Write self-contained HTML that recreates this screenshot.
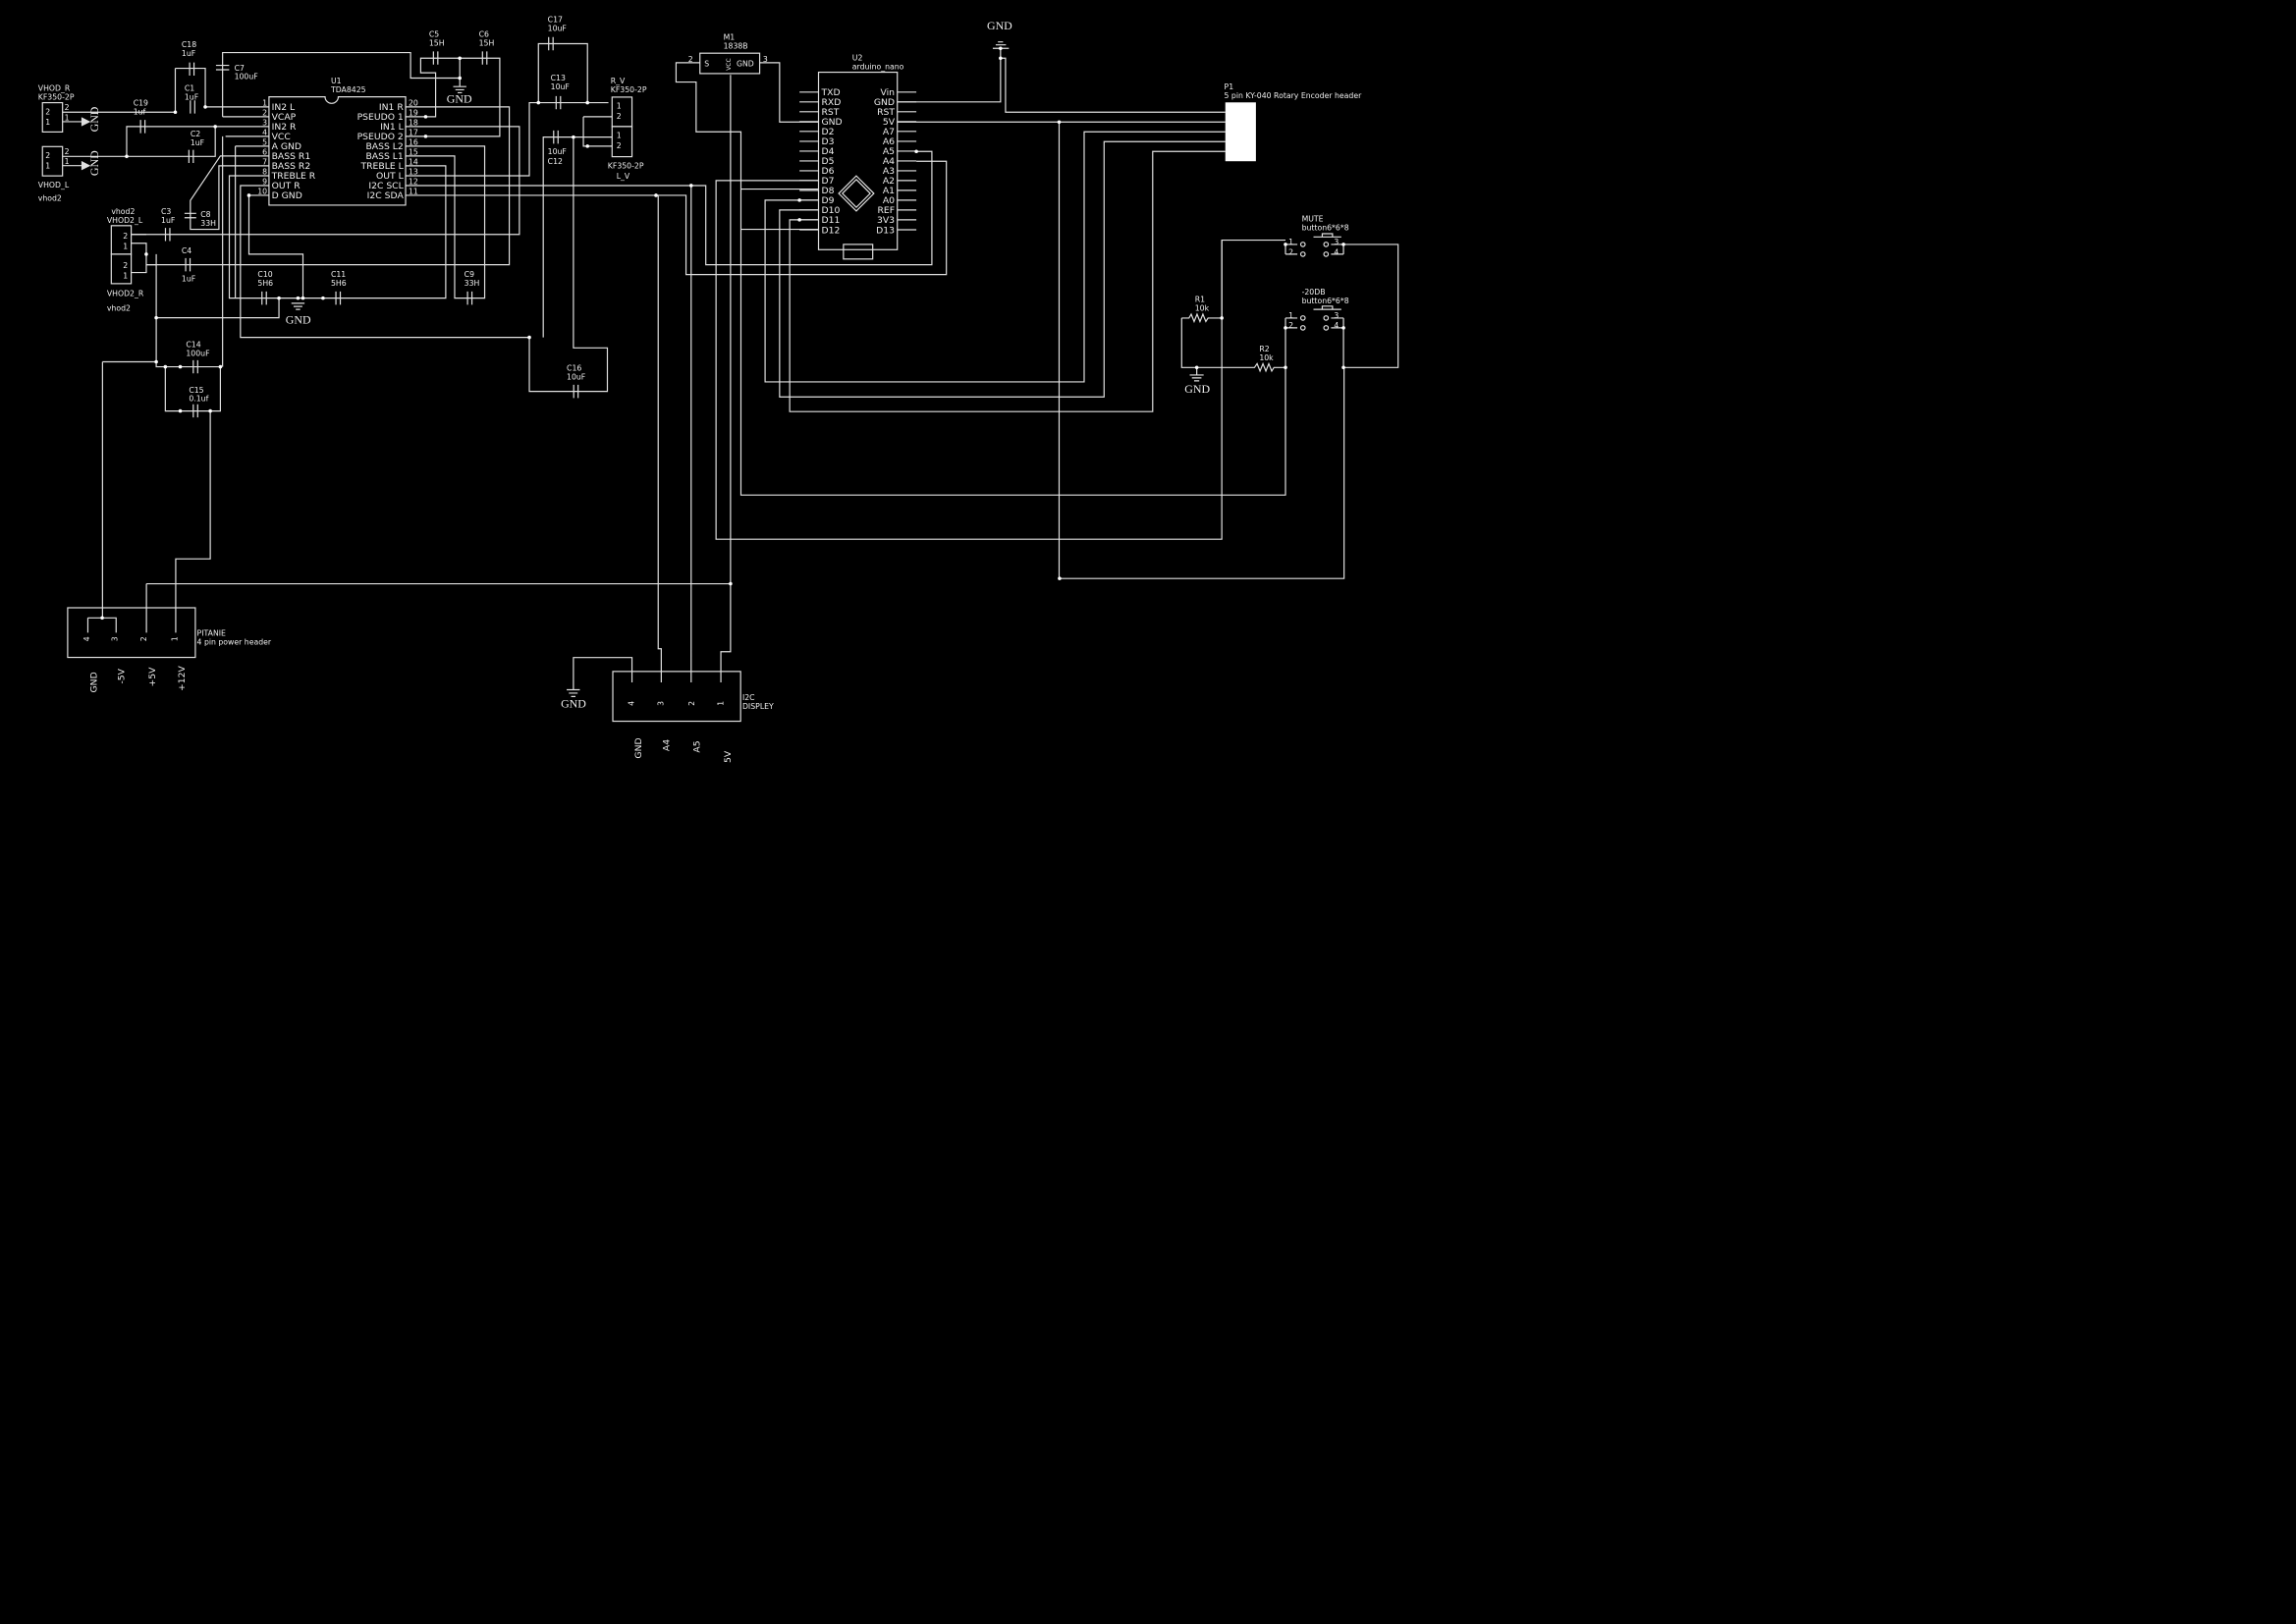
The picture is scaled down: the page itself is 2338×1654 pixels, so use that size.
<!DOCTYPE html>
<html><head><meta charset="utf-8"><style>
html,body{margin:0;padding:0;background:#000;}
svg{display:block}
text{fill:#eee;font-family:"DejaVu Sans","Liberation Sans",sans-serif;}
.s{font-size:5.2px}
.p{font-size:6.2px}
.g{font-family:"Liberation Serif","DejaVu Serif",serif;font-size:8px}
</style></head><body>
<svg width="2338" height="1654" viewBox="0 0 1568 1109" xmlns="http://www.w3.org/2000/svg">
<rect width="1568" height="1109" fill="#000"/>
<g fill="none" stroke="#e0e0e0" stroke-width="0.8">
<!-- U1 -->
<path d="M183.7,66 H222 A4.5,4.5 0 0 0 231,66 H277 V140 H183.7 Z"/>
<path d="M178,72.9H183.7M178,79.6H183.7M178,86.3H183.7M178,93H183.7M178,99.7H183.7M178,106.4H183.7M178,113.1H183.7M178,119.9H183.7M178,126.6H183.7M178,133.3H183.7"/>
<!-- left inputs -->
<rect x="29" y="70" width="13.7" height="20"/>
<rect x="29" y="100" width="13.7" height="20"/>
<path d="M42.7,76.5H119.7M42.7,83H56M42.7,106.7H130M42.7,113H56"/>
<path d="M56,80.5L61,83L56,85.5Z M56,110.5L61,113L56,115.5Z" fill="#e0e0e0"/>
<path d="M119.7,46.5V76.5M119.7,46.5H140.2V72.9M140,72.9H178"/>
<path d="M86.5,106.7V86.3H178M130,106.7H147V86.3"/>
<path d="M152,79.6H178M152,79.6V35.8H280.4V53.2H314"/>
<path d="M154,93H178M152,93V250.4"/>
<path d="M160.7,99.7H178M160.7,99.7V203.5"/>
<path d="M178,106.4H150.5L130,136.8V156.5H149.5V113.1H178"/>
<path d="M178,119.9H156.6V203.5H304.4V113.1H287"/>
<path d="M178,126.6H164.2V230.3H361.5M371,230.3V93.5H391.6"/>
<path d="M178,133.3H170V173.5H206.9V203.5"/>
<!-- right pins -->
<path d="M277,72.9H347.8V180.7H99.9M277,79.6H297.5V49.6H287.3V39.6H341.3V93H277M314,39.6V59M277,86.3H354.7V160H89.6M277,99.7H331V203.5H310.5V106.4H277"/>
<path d="M277,119.9H361.5V70H415.5M367.7,70V29.7H401.2V70"/>
<path d="M277,113.1H287M277,126.6H482V180.7H636.4V103.3H625.8M277,133.3H468.5V187.4H646.3V110H625.8"/>
<path d="M391.6,93.5V237.5H414.8V267.2H361.5V230.3M391.6,93.5H418M398.4,79.6V99.7H418M398.4,79.6H418"/>
<!-- VHOD2 -->
<rect x="76" y="154" width="13.6" height="19.5"/><rect x="76" y="173.5" width="13.6" height="20.1"/>
<path d="M89.6,160H99.9M89.6,166H99.9V186H89.6M99.9,173.5V180.7M99.9,180.7H106.7M106.7,173.5V247M106.7,216.9H190.5V203.5M70,247H106.7V250.4H150.5M70,247V421.9"/>
<!-- C14 / C15 -->
<path d="M112.9,250.4V280.6H150.5V250.4M143.6,280.6V381.6H120V432M100,398.6H498.9M100,398.6V432"/>
<!-- power header -->
<rect x="46.2" y="415" width="87.2" height="33.9"/>
<path d="M60,421.9H79.3V432M60,421.9V432"/>
<!-- I2C -->
<rect x="418.5" y="458.5" width="87.3" height="34"/>
<path d="M431.6,466V449H391.6V471M451.6,466V443H449.5V133.3M472,466V126.6M492.3,466V445H498.9V51"/>
<path d="M387,471H396M388.5,473.3H394.5M390,475.6H393"/>
<!-- M1 -->
<rect x="478" y="36.2" width="40.8" height="13.9"/>
<path d="M478,42.7H461.7V55.9H475.4V89.9H506V338H877.9V223.8M506,129H559M506,156.5H559M518.8,42.7H532.4V83.2H559"/>
<!-- arduino -->
<rect x="559" y="49.2" width="53.8" height="121.2"/>
<path d="M546,62.8H559M546,69.5H559M546,76.2H559M546,82.9H559M546,89.6H559M546,96.4H559M546,103.1H559M546,109.8H559M546,116.5H559M546,123.2H559M546,129.9H559M546,136.6H559M546,143.3H559M546,150H559M546,156.8H559"/>
<path d="M612.8,62.8H625.8M612.8,69.5H625.8M612.8,76.2H625.8M612.8,82.9H625.8M612.8,89.6H625.8M612.8,96.4H625.8M612.8,103.1H625.8M612.8,109.8H625.8M612.8,116.5H625.8M612.8,123.2H625.8M612.8,129.9H625.8M612.8,136.6H625.8M612.8,143.3H625.8M612.8,150H625.8M612.8,156.8H625.8"/>
<path d="M584.8,120L596.8,132L584.8,144L572.8,132Z M584.8,122.5L594.3,132L584.8,141.5L575.3,132Z"/>
<rect x="576" y="166.8" width="20" height="10"/>
<path d="M612.8,69.5H683.3V39.6M683.3,39.6V32.9M683.3,39.6H686.7V76.5H836.8M612.8,83.2H836.8M723.3,83.2V395H917.9V250.8"/>
<path d="M678,32.9H689M680,30.5H687M681.5,28.5H685"/>
<path d="M836.8,89.9H740.4V260.7H522.5V136.6H559M836.8,96.6H754V271H532.4V143.3H559M836.8,103.3H787.2V281H539.3V150H559"/>
<path d="M559,123.2H489V368.2H834.4V163.9H877.9"/>
<!-- buttons -->
<path d="M877.9,166.8V173.5M917.5,166.8V173.5M917.5,166.8H954.8V250.9H917.5V223.8M877.9,166.8H886M917.5,166.8H909"/>
<path d="M877.9,173.5H886M917.5,173.5H909M877.9,217.1V223.8H886M877.9,217.1H886M917.5,217.1V223.8H909M917.5,217.1H909"/>
<path d="M897,161.7H916M903,161.7V159.5H910V161.7M897,211.2H916M903,211.2V209H910V211.2"/>
<circle cx="889.8" cy="166.8" r="1.5"/><circle cx="905.6" cy="166.8" r="1.5"/><circle cx="889.8" cy="173.5" r="1.5"/><circle cx="905.6" cy="173.5" r="1.5"/>
<circle cx="889.8" cy="217.1" r="1.5"/><circle cx="905.6" cy="217.1" r="1.5"/><circle cx="889.8" cy="223.8" r="1.5"/><circle cx="905.6" cy="223.8" r="1.5"/>
<path d="M807,217.1H812L813.5,214.5L815.5,219.5L817.5,214.5L819.5,219.5L821.5,214.5L823.5,219.5L825,217.1H834.4V163.9M807,217.1V250.9H856.7L858.5,248.3L860.5,253.3L862.5,248.3L864.5,253.3L866.5,248.3L868.5,253.3L870,250.9H877.9"/>
<path d="M817.3,250.9V256M812.5,256H822M814,258H820.5M815.5,260H819"/>
<path d="M309.5,59H318.5M311,61.2H317M312.5,63.2H315.5M199,207H208M200.5,209.2H206.5M202,211.2H205"/>
</g>
<!-- caps (black gap + plates) -->
<g stroke="#e0e0e0" stroke-width="0.8" fill="none">
<g id="caps">
<path d="M129.5,42.5V51.5M132.5,42.5V51.5 M130,68.4V77.4M133,68.4V77.4 M96,81.8V90.8M99,81.8V90.8 M129,102.2V111.2M132,102.2V111.2 M113,155.5V164.5M116,155.5V164.5 M126.8,176.2V185.2M129.8,176.2V185.2 M178.9,199V208M181.9,199V208 M229.4,199V208M232.4,199V208 M319.3,199V208M322.3,199V208 M132,245.9V254.9M135,245.9V254.9 M132,276V285M135,276V285 M296,35V44M299,35V44 M329.5,35V44M332.5,35V44 M374.7,25.2V34.2M377.7,25.2V34.2 M379.8,65.5V74.5M382.8,65.5V74.5 M378.1,89V98M381.1,89V98 M391.8,262.7V271.7M394.8,262.7V271.7"/>
<path d="M147.5,44.5H156.5M147.5,47.5H156.5M126,145.6H134M126,148.6H134"/>
</g>
</g>
<g fill="#fff">
<circle cx="140.2" cy="72.9" r="1.2"/><circle cx="119.7" cy="76.5" r="1.2"/><circle cx="147" cy="86.3" r="1.2"/><circle cx="86.5" cy="106.7" r="1.2"/>
<circle cx="290.7" cy="79.6" r="1.2"/><circle cx="290.7" cy="93" r="1.2"/><circle cx="314" cy="39.6" r="1.2"/><circle cx="314" cy="53.2" r="1.2"/>
<circle cx="170" cy="133.3" r="1.2"/><circle cx="190.5" cy="203.5" r="1.2"/><circle cx="203.5" cy="203.5" r="1.2"/><circle cx="206.9" cy="203.5" r="1.2"/><circle cx="220.6" cy="203.5" r="1.2"/>
<circle cx="99.9" cy="173.5" r="1.2"/><circle cx="106.7" cy="216.9" r="1.2"/><circle cx="106.7" cy="247" r="1.2"/><circle cx="112.9" cy="250.4" r="1.2"/><circle cx="123.1" cy="250.4" r="1.2"/><circle cx="150.5" cy="250.4" r="1.2"/><circle cx="123.1" cy="280.6" r="1.2"/><circle cx="143.6" cy="280.6" r="1.2"/>
<circle cx="367.7" cy="70" r="1.2"/><circle cx="401.2" cy="70" r="1.2"/><circle cx="391.6" cy="93.5" r="1.2"/><circle cx="401.2" cy="99.7" r="1.2"/><circle cx="361.5" cy="230.3" r="1.2"/>
<circle cx="472" cy="126.6" r="1.2"/><circle cx="448" cy="133.3" r="1.2"/><circle cx="69.8" cy="421.9" r="1.2"/><circle cx="498.9" cy="398.6" r="1.2"/><circle cx="723.6" cy="395" r="1.2"/><circle cx="723.3" cy="83.2" r="1.2"/>
<circle cx="683.3" cy="39.6" r="1.2"/><circle cx="683.3" cy="32.9" r="1.2"/><circle cx="625.8" cy="103.3" r="1.2"/><circle cx="546" cy="136.6" r="1.2"/><circle cx="546" cy="150" r="1.2"/>
<circle cx="834.4" cy="217.1" r="1.2"/><circle cx="877.9" cy="250.9" r="1.2"/><circle cx="917.5" cy="250.9" r="1.2"/><circle cx="817.3" cy="250.9" r="1.2"/><circle cx="917.5" cy="166.8" r="1.2"/><circle cx="877.9" cy="166.8" r="1.2"/><circle cx="877.9" cy="223.8" r="1.2"/><circle cx="917.5" cy="223.8" r="1.2"/>
<rect x="836.8" y="69.8" width="20.9" height="40.2"/>
</g>
<!-- U1 text -->
<text class="p" x="185.5" y="75">IN2 L</text><text class="p" x="185.5" y="81.7">VCAP</text><text class="p" x="185.5" y="88.4">IN2 R</text><text class="p" x="185.5" y="95.1">VCC</text><text class="p" x="185.5" y="101.8">A GND</text><text class="p" x="185.5" y="108.5">BASS R1</text><text class="p" x="185.5" y="115.2">BASS R2</text><text class="p" x="185.5" y="122">TREBLE R</text><text class="p" x="185.5" y="128.7">OUT R</text><text class="p" x="185.5" y="135.4">D GND</text>
<g text-anchor="end"><text class="p" x="275.5" y="75">IN1 R</text><text class="p" x="275.5" y="81.7">PSEUDO 1</text><text class="p" x="275.5" y="88.4">IN1 L</text><text class="p" x="275.5" y="95.1">PSEUDO 2</text><text class="p" x="275.5" y="101.8">BASS L2</text><text class="p" x="275.5" y="108.5">BASS L1</text><text class="p" x="275.5" y="115.2">TREBLE L</text><text class="p" x="275.5" y="122">OUT L</text><text class="p" x="275.5" y="128.7">I2C SCL</text><text class="p" x="275.5" y="135.4">I2C SDA</text>
<text class="s" x="182.5" y="72">1</text><text class="s" x="182.5" y="78.7">2</text><text class="s" x="182.5" y="85.4">3</text><text class="s" x="182.5" y="92.1">4</text><text class="s" x="182.5" y="98.8">5</text><text class="s" x="182.5" y="105.5">6</text><text class="s" x="182.5" y="112.2">7</text><text class="s" x="182.5" y="119">8</text><text class="s" x="182.5" y="125.7">9</text><text class="s" x="182.5" y="132.4">10</text></g>
<text class="s" x="279" y="72">20</text><text class="s" x="279" y="78.7">19</text><text class="s" x="279" y="85.4">18</text><text class="s" x="279" y="92.1">17</text><text class="s" x="279" y="98.8">16</text><text class="s" x="279" y="105.5">15</text><text class="s" x="279" y="112.2">14</text><text class="s" x="279" y="119">13</text><text class="s" x="279" y="125.7">12</text><text class="s" x="279" y="132.4">11</text>
<text class="s" x="226" y="57">U1</text><text class="s" x="226" y="63">TDA8425</text>
<!-- Labels -->
<text class="s" x="26" y="62">VHOD_R</text><text class="s" x="26" y="68">KF350-2P</text>
<text class="s" x="31" y="78">2</text><text class="s" x="31" y="85">1</text><text class="s" x="31" y="108">2</text><text class="s" x="31" y="115">1</text>
<text class="s" x="44" y="75">2</text><text class="s" x="44" y="82">1</text><text class="s" x="44" y="105">2</text><text class="s" x="44" y="112">1</text>
<text class="s" x="26" y="128">VHOD_L</text><text class="s" x="26" y="137">vhod2</text>
<text class="g" transform="translate(67,90) rotate(-90)">GND</text><text class="g" transform="translate(67,120) rotate(-90)">GND</text>
<text class="s" x="124" y="32">C18</text><text class="s" x="124" y="38">1uF</text>
<text class="s" x="126" y="62">C1</text><text class="s" x="126" y="68">1uF</text>
<text class="s" x="91" y="72">C19</text><text class="s" x="91" y="78">1uf</text>
<text class="s" x="130" y="93">C2</text><text class="s" x="130" y="99">1uF</text>
<text class="s" x="160" y="48">C7</text><text class="s" x="160" y="54">100uF</text>
<text class="s" x="293" y="25">C5</text><text class="s" x="293" y="31">15H</text><text class="s" x="327" y="25">C6</text><text class="s" x="327" y="31">15H</text>
<text class="g" x="305" y="70">GND</text>
<text class="s" x="374" y="15">C17</text><text class="s" x="374" y="21">10uF</text>
<text class="s" x="376" y="55">C13</text><text class="s" x="376" y="61">10uF</text>
<text class="s" x="374" y="105">10uF</text><text class="s" x="374" y="112">C12</text>
<text class="s" x="417" y="57">R_V</text><text class="s" x="417" y="63">KF350-2P</text>
<text class="s" x="415" y="115">KF350-2P</text><text class="s" x="421" y="122">L_V</text>
<rect x="418" y="66.2" width="13.6" height="20.1" fill="none" stroke="#e0e0e0" stroke-width="0.8"/><rect x="418" y="86.3" width="13.6" height="20.6" fill="none" stroke="#e0e0e0" stroke-width="0.8"/>
<text class="s" x="421" y="74">1</text><text class="s" x="421" y="81">2</text><text class="s" x="421" y="94">1</text><text class="s" x="421" y="101">2</text>
<text class="s" x="76" y="146">vhod2</text><text class="s" x="73" y="152">VHOD2_L</text><text class="s" x="73" y="202">VHOD2_R</text><text class="s" x="73" y="212">vhod2</text>
<text class="s" x="84" y="163">2</text><text class="s" x="84" y="170">1</text><text class="s" x="84" y="183">2</text><text class="s" x="84" y="190">1</text>
<text class="s" x="110" y="146">C3</text><text class="s" x="110" y="152">1uF</text>
<text class="s" x="124" y="173">C4</text><text class="s" x="124" y="192">1uF</text>
<text class="s" x="137" y="148">C8</text><text class="s" x="137" y="154">33H</text>
<text class="s" x="176" y="189">C10</text><text class="s" x="176" y="195">5H6</text><text class="s" x="226" y="189">C11</text><text class="s" x="226" y="195">5H6</text>
<text class="s" x="317" y="189">C9</text><text class="s" x="317" y="195">33H</text>
<text class="g" x="195" y="221">GND</text>
<text class="s" x="127" y="237">C14</text><text class="s" x="127" y="243">100uF</text><text class="s" x="129" y="268">C15</text><text class="s" x="129" y="274">0.1uf</text>
<text class="s" x="387" y="253">C16</text><text class="s" x="387" y="259">10uF</text>
<text class="s" x="134.5" y="434">PITANIE</text><text class="s" x="134.5" y="440">4 pin power header</text>
<text class="p" transform="translate(66,473) rotate(-90)">GND</text><text class="p" transform="translate(85,467) rotate(-90)">-5V</text><text class="p" transform="translate(106,469) rotate(-90)">+5V</text><text class="p" transform="translate(126,472) rotate(-90)">+12V</text>
<text class="s" transform="translate(61,438) rotate(-90)">4</text><text class="s" transform="translate(80,438) rotate(-90)">3</text><text class="s" transform="translate(100,438) rotate(-90)">2</text><text class="s" transform="translate(121,438) rotate(-90)">1</text>
<text class="g" x="383" y="483">GND</text>
<text class="s" x="507" y="478">I2C</text><text class="s" x="507" y="484">DISPLEY</text>
<text class="p" transform="translate(438,518) rotate(-90)">GND</text><text class="p" transform="translate(457,513) rotate(-90)">A4</text><text class="p" transform="translate(478,514) rotate(-90)">A5</text><text class="p" transform="translate(499,521) rotate(-90)">5V</text>
<text class="s" transform="translate(433,482) rotate(-90)">4</text><text class="s" transform="translate(453,482) rotate(-90)">3</text><text class="s" transform="translate(474,482) rotate(-90)">2</text><text class="s" transform="translate(494,482) rotate(-90)">1</text>
<text class="s" x="494" y="27">M1</text><text class="s" x="494" y="33">1838B</text>
<text class="s" x="481" y="45">S</text><text class="s" x="503" y="45">GND</text><text class="s" x="470" y="42">2</text><text class="s" x="521" y="42">3</text>
<text style="font-size:4px" transform="translate(499,48) rotate(-90)">VCC</text>
<text class="s" x="582" y="41">U2</text><text class="s" x="582" y="47">arduino_nano</text>
<text class="p" x="561" y="65">TXD</text><text class="p" x="561" y="71.7">RXD</text><text class="p" x="561" y="78.4">RST</text><text class="p" x="561" y="85.1">GND</text><text class="p" x="561" y="91.8">D2</text><text class="p" x="561" y="98.6">D3</text><text class="p" x="561" y="105.3">D4</text><text class="p" x="561" y="112">D5</text><text class="p" x="561" y="118.7">D6</text><text class="p" x="561" y="125.4">D7</text><text class="p" x="561" y="132.1">D8</text><text class="p" x="561" y="138.8">D9</text><text class="p" x="561" y="145.5">D10</text><text class="p" x="561" y="152.2">D11</text><text class="p" x="561" y="159">D12</text>
<g text-anchor="end"><text class="p" x="611" y="65">Vin</text><text class="p" x="611" y="71.7">GND</text><text class="p" x="611" y="78.4">RST</text><text class="p" x="611" y="85.1">5V</text><text class="p" x="611" y="91.8">A7</text><text class="p" x="611" y="98.6">A6</text><text class="p" x="611" y="105.3">A5</text><text class="p" x="611" y="112">A4</text><text class="p" x="611" y="118.7">A3</text><text class="p" x="611" y="125.4">A2</text><text class="p" x="611" y="132.1">A1</text><text class="p" x="611" y="138.8">A0</text><text class="p" x="611" y="145.5">REF</text><text class="p" x="611" y="152.2">3V3</text><text class="p" x="611" y="159">D13</text></g>
<text class="g" x="674" y="20">GND</text>
<text class="s" x="836" y="61">P1</text><text class="s" x="836" y="67">5 pin KY-040 Rotary Encoder header</text>
<text class="s" x="889" y="151">MUTE</text><text class="s" x="889" y="157">button6*6*8</text>
<text class="s" x="889" y="201">-20DB</text><text class="s" x="889" y="207">button6*6*8</text>
<text class="s" x="880" y="167">1</text><text class="s" x="880" y="174">2</text><text class="s" x="911" y="167">3</text><text class="s" x="911" y="174">4</text>
<text class="s" x="880" y="217">1</text><text class="s" x="880" y="224">2</text><text class="s" x="911" y="217">3</text><text class="s" x="911" y="224">4</text>
<text class="s" x="816" y="206">R1</text><text class="s" x="816" y="212">10k</text><text class="s" x="860" y="240">R2</text><text class="s" x="860" y="246">10k</text>
<text class="g" x="809" y="268">GND</text>
</svg>
</body></html>
